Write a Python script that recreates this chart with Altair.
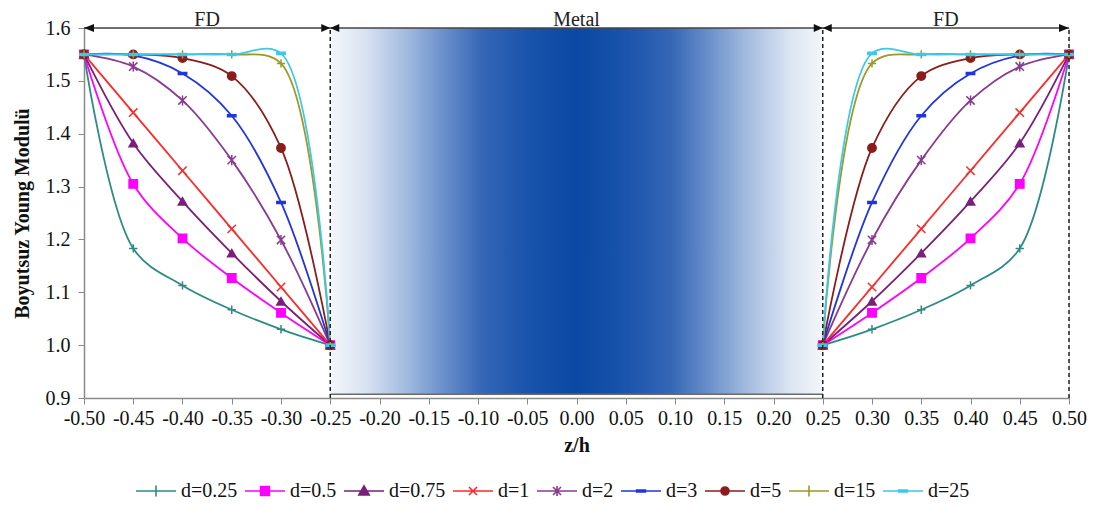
import altair as alt
import pandas as pd

# ---------------- data ----------------
SERIES = ["d=0.25", "d=0.5", "d=0.75", "d=1", "d=2", "d=3", "d=5", "d=15", "d=25"]
COLORS = ["#2E8B84", "#FF00FF", "#7A1F7A", "#FF2A2A", "#8A3A92",
          "#1F35E0", "#8B1C1C", "#9C9A22", "#3CC8E8"]

# |z| positions from the outer face (0.50) to the FD/metal interface (0.25)
ABS_Z = [0.50, 0.45, 0.40, 0.35, 0.30, 0.25]
# dimensionless Young modulus at those positions (same on both faces)
V_d025 = [1.55, 1.183, 1.113, 1.067, 1.030, 1.00]
V_d05 = [1.55, 1.305, 1.202, 1.127, 1.061, 1.00]
V_d075 = [1.55, 1.382, 1.272, 1.174, 1.083, 1.00]
V_d1 = [1.55, 1.440, 1.330, 1.220, 1.110, 1.00]
V_d2 = [1.55, 1.527, 1.463, 1.350, 1.199, 1.00]
V_d3 = [1.55, 1.548, 1.514, 1.434, 1.270, 1.00]
V_d5 = [1.55, 1.550, 1.543, 1.509, 1.373, 1.00]
V_d15 = [1.55, 1.550, 1.550, 1.550, 1.533, 1.00]
V_d25 = [1.55, 1.550, 1.550, 1.550, 1.552, 1.00]
VALUES = [V_d025, V_d05, V_d075, V_d1, V_d2, V_d3, V_d5, V_d15, V_d25]

X_TICKS = [-0.50, -0.45, -0.40, -0.35, -0.30, -0.25, -0.20, -0.15, -0.10, -0.05,
           0.00, 0.05, 0.10, 0.15, 0.20, 0.25, 0.30, 0.35, 0.40, 0.45, 0.50]
Y_TICKS = [0.9, 1.0, 1.1, 1.2, 1.3, 1.4, 1.5, 1.6]

REGION_START = [-0.50, -0.25, 0.25]
REGION_END = [-0.25, 0.25, 0.50]
REGION_LABEL = ["FD", "Metal", "FD"]
BOUNDARIES = [-0.25, 0.25, 0.50]
ARROW_X = [-0.50, -0.25, 0.25, 0.50]
ARROW_SHAPE = [
    "M0,0L2,-0.8L2,0.8Z",
    "M0,0L-1.8,-0.8L-1.8,0.8ZM0,0L1.8,-0.8L1.8,0.8Z",
    "M0,0L-1.8,-0.8L-1.8,0.8ZM0,0L1.8,-0.8L1.8,0.8Z",
    "M0,0L-2,-0.8L-2,0.8Z",
]

# marker shapes on the plot
MARKERS = [
    "M-1,0L1,0M0,-1L0,1",                     # +
    "square",
    "triangle-up",
    "M-1,-1L1,1M-1,1L1,-1",                   # x
    "M-1,-1L1,1M-1,1L1,-1M0,-1.2L0,1.2",      # asterisk
    "M-1,-0.25L1,-0.25L1,0.25L-1,0.25Z",      # dash
    "circle",
    "M-1,0L1,0M0,-1L0,1",                     # +
    "M-1,-0.25L1,-0.25L1,0.25L-1,0.25Z",      # dash
]
# legend symbols: line through the marker
LEG = "M-1,0L1,0"
LEGEND_SYMBOLS = [
    LEG + "M0,-0.27L0,0.27",
    LEG + "M-0.22,-0.22L0.22,-0.22L0.22,0.22L-0.22,0.22Z",
    LEG + "M0,-0.26L0.26,0.2L-0.26,0.2Z",
    LEG + "M-0.2,-0.2L0.2,0.2M-0.2,0.2L0.2,-0.2",
    LEG + "M-0.2,-0.2L0.2,0.2M-0.2,0.2L0.2,-0.2M0,-0.25L0,0.25",
    LEG + "M-0.22,-0.05L0.22,-0.05L0.22,0.05L-0.22,0.05Z",
    LEG + "M0.2,0A0.2,0.2,0,1,1,-0.2,0A0.2,0.2,0,1,1,0.2,0Z",
    LEG + "M0,-0.27L0,0.27",
    LEG + "M-0.22,-0.05L0.22,-0.05L0.22,0.05L-0.22,0.05Z",
]

rows = []
for s, vals in zip(SERIES, VALUES):
    for az, v in zip(ABS_Z, vals):
        rows.append({"d": s, "side": "L", "z": -az, "E": v})
        rows.append({"d": s, "side": "R", "z": az, "E": v})
df = pd.DataFrame(rows)

regions = pd.DataFrame({"x": REGION_START, "x2": REGION_END, "label": REGION_LABEL})
regions["mid"] = (regions["x"] + regions["x2"]) / 2
regions["top"] = Y_TICKS[-1]
metal = regions[regions["label"] == "Metal"].assign(bot=0.907)
bounds = pd.DataFrame({"x": BOUNDARIES, "y": Y_TICKS[0], "y2": Y_TICKS[-1]})
arrows = pd.DataFrame({"x": ARROW_X, "y": Y_TICKS[-1], "shp": ARROW_SHAPE})
topline = pd.DataFrame({"x": [REGION_START[0]], "x2": [REGION_END[-1]], "y": [Y_TICKS[-1]]})

FONT = "Liberation Serif, Times New Roman, serif"
xscale = alt.Scale(domain=[-0.5, 0.5], nice=False, zero=False)
yscale = alt.Scale(domain=[0.9, 1.6], nice=False, zero=False)

xaxis = alt.Axis(values=X_TICKS, title="z/h", grid=False, labelOverlap=False, labelFlush=False,
                 labelExpr="replace(format(datum.value, '.2f'), '\u2212', '-')",
                 labelFont=FONT, labelFontSize=20, labelColor="#111",
                 titleFont=FONT, titleFontSize=20, titleFontWeight="bold", titleColor="#111",
                 tickSize=6, labelPadding=4, titlePadding=7,
                 domainColor="#8a8a8a", tickColor="#8a8a8a", domainWidth=1.5)
yaxis = alt.Axis(values=Y_TICKS, title="Boyutsuz Young Modulü", grid=False, format=".1f",
                 labelOverlap=False, labelFlush=False,
                 labelFont=FONT, labelFontSize=20, labelColor="#111",
                 titleFont=FONT, titleFontSize=20, titleFontWeight="bold", titleColor="#111",
                 tickSize=6, labelPadding=8, titlePadding=13,
                 domainColor="#8a8a8a", tickColor="#8a8a8a", domainWidth=1.5)

gradient = {
    "gradient": "linear", "x1": 0, "x2": 1, "y1": 0, "y2": 0,
    "stops": [
        {"offset": 0.0, "color": "#f4f7fb"},
        {"offset": 0.07, "color": "#d9e3f2"},
        {"offset": 0.15, "color": "#a6bde0"},
        {"offset": 0.23, "color": "#6a90cb"},
        {"offset": 0.31, "color": "#3466b6"},
        {"offset": 0.40, "color": "#1a54ab"},
        {"offset": 0.50, "color": "#0a48a3"},
        {"offset": 0.60, "color": "#1a54ab"},
        {"offset": 0.69, "color": "#3466b6"},
        {"offset": 0.77, "color": "#6a90cb"},
        {"offset": 0.85, "color": "#a6bde0"},
        {"offset": 0.93, "color": "#d9e3f2"},
        {"offset": 1.0, "color": "#f4f7fb"},
    ],
}

metal_rect = alt.Chart(metal).mark_rect(fill=gradient).encode(
    x=alt.X("x:Q", scale=xscale, axis=xaxis), x2="x2:Q",
    y=alt.Y("bot:Q", scale=yscale, axis=yaxis), y2="top:Q")

metal_base = alt.Chart(metal).mark_rule(color="#6a6a6a", strokeWidth=1.5).encode(
    x="x:Q", x2="x2:Q", y="bot:Q")

color_scale = alt.Scale(domain=SERIES, range=COLORS)

lines = alt.Chart(df).mark_line(interpolate="catmull-rom", strokeWidth=1.8).encode(
    x="z:Q", y="E:Q",
    color=alt.Color("d:N", scale=color_scale, legend=None),
    detail="side:N")

points = alt.Chart(df).mark_point(filled=True, strokeWidth=1.5, size=70, opacity=1).encode(
    x="z:Q", y="E:Q",
    color=alt.Color("d:N", scale=color_scale, legend=None),
    stroke=alt.Stroke("d:N", scale=color_scale, legend=None),
    shape=alt.Shape("d:N", scale=alt.Scale(domain=SERIES, range=MARKERS), legend=None))

dashed = alt.Chart(bounds).mark_rule(color="#222", strokeWidth=1.5, strokeDash=[4, 3]).encode(
    x="x:Q", y="y:Q", y2="y2:Q")

top_rule = alt.Chart(topline).mark_rule(color="#444", strokeWidth=1.5).encode(
    x="x:Q", x2="x2:Q", y="y:Q")

arrow_heads = alt.Chart(arrows).mark_point(filled=True, color="#111", size=100, opacity=1).encode(
    x="x:Q", y="y:Q", shape=alt.Shape("shp:N", scale=None))

labels = alt.Chart(regions).mark_text(dy=-2, fontSize=20, font=FONT, color="#222",
                                      baseline="alphabetic").encode(
    x="mid:Q", y="top:Q", text="label:N")

leg = alt.Legend(title=None, orient="none", direction="horizontal", legendX=51, legendY=442,
                 labelFont=FONT, labelFontSize=20, labelColor="#111", labelOffset=4,
                 columnPadding=3, symbolSize=1600, symbolStrokeWidth=1.6, padding=0)

legend_layer = alt.Chart(df).transform_filter("false").mark_point(
    filled=True, strokeWidth=1.6, opacity=1).encode(
    x="z:Q", y="E:Q",
    color=alt.Color("d:N", scale=color_scale, legend=leg),
    stroke=alt.Stroke("d:N", scale=color_scale, legend=leg),
    shape=alt.Shape("d:N", scale=alt.Scale(domain=SERIES, range=LEGEND_SYMBOLS), legend=leg))

chart = alt.layer(
    metal_rect, metal_base, lines, points, dashed, top_rule, arrow_heads, labels, legend_layer
).resolve_scale(
    color="independent", stroke="independent", shape="independent"
).properties(
    width=985, height=370,
    autosize=alt.AutoSizeParams(type="none"),
    padding={"left": 76, "top": 20, "right": 22, "bottom": 103},
).configure_view(stroke=None).configure(background="white")

chart.save("out.html", embed_options={"renderer": "svg", "actions": False})
